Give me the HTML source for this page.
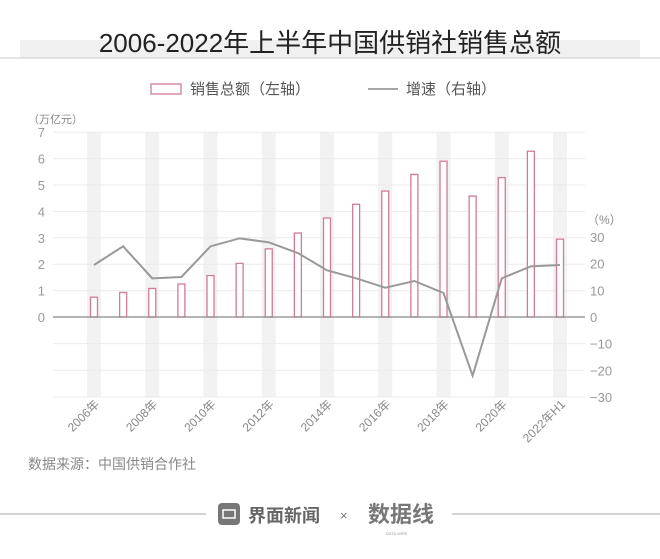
<!DOCTYPE html>
<html><head><meta charset="utf-8"><style>
body{margin:0;background:#fff;}
svg text{font-family:"Liberation Sans","Noto Sans CJK SC",sans-serif;}
</style></head><body>
<svg width="660" height="554" viewBox="0 0 660 554" xmlns="http://www.w3.org/2000/svg">
<rect x="20" y="40" width="620" height="18" fill="#f0f0f0"/>
<line x1="0" y1="58" x2="660" y2="58" stroke="#ccc" stroke-width="1"/>
<text x="330" y="52" text-anchor="middle" font-size="26" fill="#222">2006-2022年上半年中国供销社销售总额</text>
<rect x="151" y="84" width="30" height="10" fill="none" stroke="#d27a98" stroke-width="1.3"/>
<text x="190" y="94" font-size="15" fill="#555">销售总额（左轴）</text>
<line x1="368" y1="89" x2="398" y2="89" stroke="#888" stroke-width="1.5"/>
<text x="406" y="94" font-size="15" fill="#555">增速（右轴）</text>
<text x="28" y="123" font-size="11" fill="#888">（万亿元）</text>
<g id="bands" fill="#f2f2f2">
</g>
<g id="grid" stroke="#ebebeb" stroke-width="1"></g>
<g id="main"></g>
<text x="587" y="224" font-size="12" fill="#888">（%）</text>
<text x="28" y="469" font-size="14" fill="#888">数据来源：中国供销合作社</text>
<line x1="0" y1="514" x2="206" y2="514" stroke="#bbb" stroke-width="1.2"/>
<line x1="452" y1="514" x2="660" y2="514" stroke="#bbb" stroke-width="1.2"/>
<rect x="218" y="503" width="22" height="22" rx="4" fill="#777"/>
<rect x="223" y="510" width="12" height="8" fill="none" stroke="#fff" stroke-width="1.5"/>
<text x="248" y="522" font-size="18" font-weight="bold" fill="#666">界面新闻</text>
<text x="340" y="520" font-size="13" fill="#777">×</text>
<text x="368" y="522" font-size="22" font-weight="bold" fill="#777">数据线</text>
<text x="386" y="535" font-size="4" fill="#999">DATA WIRE</text>
</svg>
<script>
const ns="http://www.w3.org/2000/svg";
function el(t,a,p){const e=document.createElementNS(ns,t);for(const k in a)e.setAttribute(k,a[k]);document.getElementById(p)?document.getElementById(p).appendChild(e):p.appendChild(e);return e;}
const svg=document.querySelector('svg');
const x0=94,dx=29.125,y0=317,u=26.4,pu=80/30;
const bars=[0.75,0.93,1.08,1.25,1.57,2.03,2.58,3.18,3.75,4.27,4.77,5.4,5.9,4.58,5.28,6.28,2.95];
const g=[19.5,26.5,14.5,15,26.5,29.5,28,24,17.5,14.5,11,13.5,9,-22,14.5,19,19.5];
const labels=["2006年","2008年","2010年","2012年","2014年","2016年","2018年","2020年","2022年H1"];
for(let i=0;i<17;i+=2){el('rect',{x:x0+i*dx-7,y:132,width:14,height:265},'bands');}
for(let k=1;k<=7;k++){el('line',{x1:53,x2:585,y1:y0-k*u,y2:y0-k*u},'grid');}
for(let k=1;k<=3;k++){el('line',{x1:53,x2:585,y1:y0+k*10*pu,y2:y0+k*10*pu},'grid');}
const m=document.getElementById('main');
for(let k=0;k<=7;k++){const t=el('text',{x:45,y:y0-k*u+5,'text-anchor':'end','font-size':13,fill:'#999'},m);t.textContent=k;}
for(let k=-3;k<=3;k++){const t=el('text',{x:590,y:y0-k*10*pu+5,'font-size':13,fill:'#999'},m);t.textContent=(k<0?'−':'')+Math.abs(k*10);}
bars.forEach((v,i)=>{el('rect',{x:x0+i*dx-3.5,y:y0-v*u,width:7,height:v*u,fill:'#fff',stroke:'#d27a98','stroke-width':1.3},m);});
el('line',{x1:53,x2:585,y1:y0,y2:y0,stroke:'#888','stroke-width':1.2},m);
el('polyline',{points:g.map((v,i)=>(x0+i*dx)+','+(y0-v*pu)).join(' '),fill:'none',stroke:'#999','stroke-width':2},m);
labels.forEach((l,j)=>{const x=x0+j*2*dx+6,y=405;const t=el('text',{x:x,y:y,'text-anchor':'end','font-size':12,fill:'#888',transform:`rotate(-45 ${x} ${y})`},m);t.textContent=l;});
</script>
</body></html>
